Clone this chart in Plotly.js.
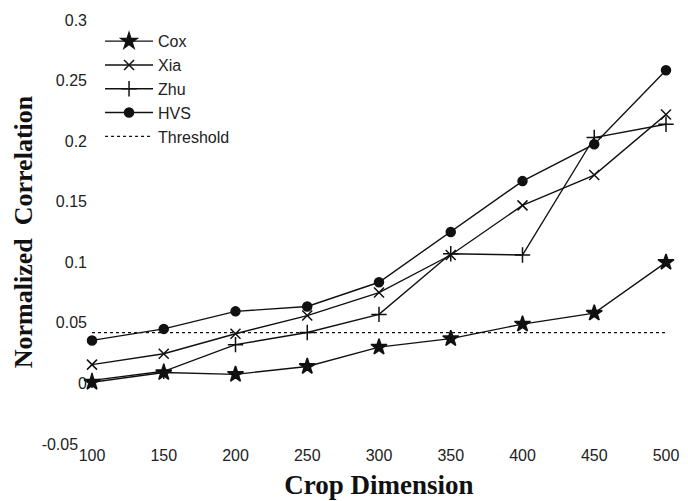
<!DOCTYPE html>
<html>
<head>
<meta charset="utf-8">
<script src="https://cdn.plot.ly/plotly-3.0.1.min.js"></script>
<style>
  html, body { margin: 0; padding: 0; background: #fff; }
  #chart { width: 688px; height: 501px; }
</style>
</head>
<body>
<div id="chart"></div>
<script>
// Crop dimension on the x axis
const cropDims = [100, 150, 200, 250, 300, 350, 400, 450, 500];

// Normalized correlation per method
const coxVals = [0.001, 0.009, 0.0075, 0.014, 0.030, 0.037, 0.049, 0.058, 0.100];
const xiaVals = [0.0155, 0.0245, 0.041, 0.056, 0.075, 0.106, 0.147, 0.172, 0.222];
const zhuVals = [0.0025, 0.010, 0.032, 0.042, 0.057, 0.107, 0.106, 0.203, 0.214];
const hvsVals = [0.0355, 0.045, 0.0595, 0.0635, 0.0835, 0.125, 0.167, 0.1975, 0.2585];
const thresholdVal = 0.042;

// Axis ticks (the lowest label is nudged left so it clears the first x label)
const yTickVals = [-0.05, 0, 0.05, 0.1, 0.15, 0.2, 0.25, 0.3];
const yTickText = ['-0.05\u00a0\u00a0', '0', '0.05', '0.1', '0.15', '0.2', '0.25', '0.3'];

const ink = '#111';
const lineW = 1.4;

function series(name, vals, symbol, size, group) {
  return {
    x: cropDims, y: vals, name: name, type: 'scatter', mode: 'lines+markers',
    legendgroup: group,
    line: { color: ink, width: lineW },
    marker: { symbol: symbol, size: size, color: ink, line: { color: ink, width: 1.5 } },
    cliponaxis: false
  };
}

const traces = [
  series('Cox', coxVals, 'star', 12, 'g1'),
  series('Xia', xiaVals, 'x-thin-open', 10, 'g2'),
  series('Zhu', zhuVals, 'cross-thin-open', 11, 'g3'),
  series('HVS', hvsVals, 'circle', 9, 'g4'),
  {
    x: [cropDims[0], cropDims[cropDims.length - 1]],
    y: [thresholdVal, thresholdVal],
    name: 'Threshold', type: 'scatter', mode: 'lines', legendgroup: 'g5',
    line: { color: ink, width: 1.3, dash: 'dot' },
    cliponaxis: false
  }
];

const layout = {
  width: 688, height: 501,
  margin: { l: 92, r: 22, t: 20, b: 57 },
  paper_bgcolor: '#fff', plot_bgcolor: '#fff',
  showlegend: true,
  legend: {
    x: 0.014, y: 0.99, xanchor: 'left', yanchor: 'top',
    bgcolor: 'rgba(0,0,0,0)',
    font: { family: 'Liberation Sans, Arial, sans-serif', size: 16, color: '#222' },
    tracegroupgap: 0,
    itemwidth: 48
  },
  xaxis: {
    range: [100, 500],
    tickvals: cropDims,
    showgrid: false, zeroline: false, showline: false, ticks: '',
    tickfont: { family: 'Liberation Sans, Arial, sans-serif', size: 16, color: '#222' },
    title: { text: 'Crop Dimension', font: { family: 'Liberation Serif, Times New Roman, serif', size: 27, color: '#111', weight: 'bold' }, standoff: 12 }
  },
  yaxis: {
    range: [-0.05, 0.3],
    tickvals: yTickVals, ticktext: yTickText,
    showgrid: false, zeroline: false, showline: false, ticks: '',
    ticklabelstandoff: 4,
    tickfont: { family: 'Liberation Sans, Arial, sans-serif', size: 16, color: '#222' },
    title: { text: 'Normalized  Correlation', font: { family: 'Liberation Serif, Times New Roman, serif', size: 26, color: '#111', weight: 'bold' }, standoff: 1 }
  }
};

Plotly.newPlot('chart', traces, layout, { displayModeBar: false, staticPlot: true });
</script>
</body>
</html>
